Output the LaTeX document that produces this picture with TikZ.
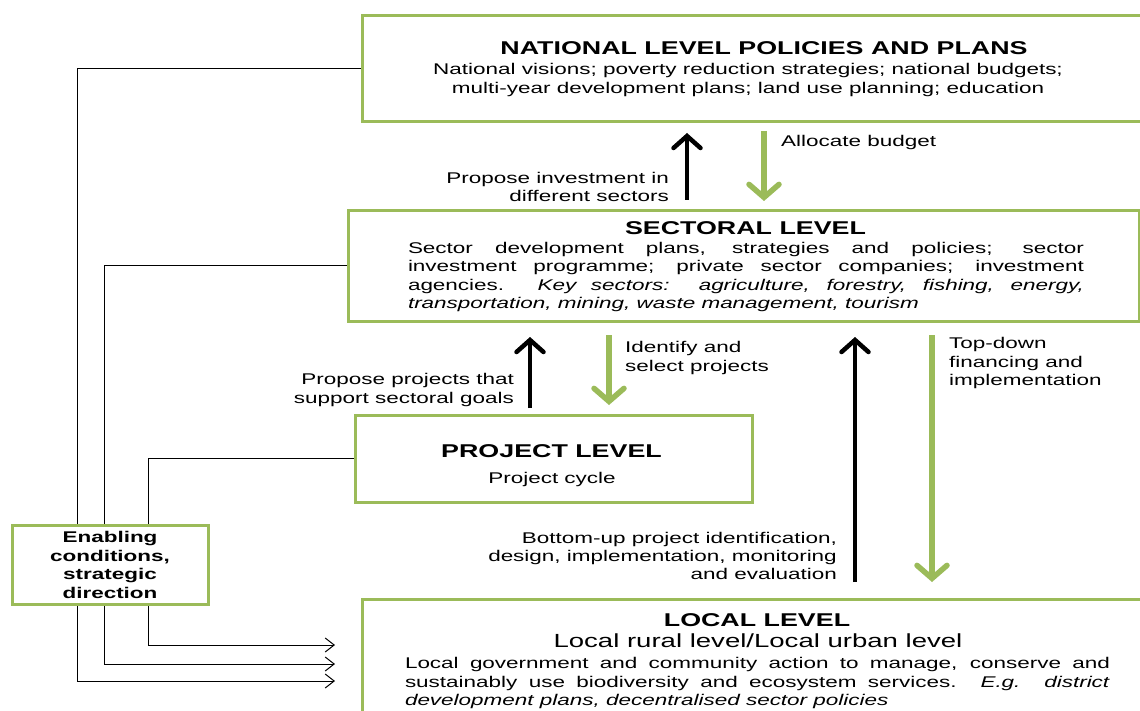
\documentclass[tikz,border=0pt]{standalone}
\usepackage{fontspec}
\setmainfont{Liberation Sans}[FakeStretch=1.45]
\usetikzlibrary{arrows.meta}
\definecolor{boxgreen}{RGB}{155,187,89}
\begin{document}
\begin{tikzpicture}[x=1pt,y=-1pt,
  gbox/.style={draw=boxgreen, line width=3pt, fill=white, inner sep=0pt},
  conn/.style={line width=1pt, black},
  connarr/.style={conn, -{Straight Barb[length=9pt,width=14pt]}},
  txt/.style={inner sep=0pt, font=\fontsize{15.5}{18.3}\selectfont},
  ttl/.style={inner sep=0pt, font=\bfseries\fontsize{18.5}{21}\selectfont},
  sub/.style={inner sep=0pt, font=\fontsize{19}{21}\selectfont},
  etxt/.style={inner sep=0pt, align=center, font=\bfseries\fontsize{15.5}{18.7}\selectfont},
  garrow/.style={line width=5.5pt, draw=boxgreen, -{Straight Barb[length=13pt,width=30pt,line cap=round]}},
  barrow/.style={line width=4.5pt, draw=black, -{Straight Barb[length=12pt,width=27pt,line cap=round]}}
]
\clip (0,0) rectangle (1140,711);
\fill[white] (0,0) rectangle (1140,711);

% boxes
\node[gbox, minimum width=800pt, minimum height=106pt] (nat) at (762,69) {};
\node[gbox, minimum width=791pt, minimum height=110pt] (sec) at (743.5,266) {};
\node[gbox, minimum width=397pt, minimum height=87pt] (proj) at (553.5,458.5) {};
\node[gbox, minimum width=800pt, minimum height=141pt] (loc) at (762,669.5) {};

% connector end points
\coordinate (c1) at (77,681);  \coordinate (t1) at (335,681);
\coordinate (c2) at (104,664); \coordinate (t2) at (335,664);
\coordinate (c3) at (148,645); \coordinate (t3) at (335,645);
\draw[connarr] (nat.west) -| (c1) -- (t1);
\draw[connarr] (sec.west) -| (c2) -- (t2);
\draw[connarr] (proj.west) -| (c3) -- (t3);

% enabling box on top
\node[gbox, minimum width=196pt, minimum height=79pt] (en) at (110,564.5) {};
\node[etxt] (entxt) at (110,565) {Enabling\\conditions,\\strategic\\direction};

% texts
\node[ttl] (natt) at (764,48) {NATIONAL LEVEL POLICIES AND PLANS};
\node[txt, align=center] (natb) at (748,80) {National visions; poverty reduction strategies; national budgets;\\multi-year development plans; land use planning; education};

\node[ttl] (sect) at (745.5,228) {SECTORAL LEVEL};
\node[txt, text width=676pt, align=justify] (secb) at (746,277) {Sector development plans, strategies and policies; sector\linebreak investment programme; private sector companies; investment\linebreak agencies. \textit{Key sectors:\ \ agriculture, forestry, fishing, energy,}\linebreak \textit{transportation, mining, waste management, tourism}};

\node[ttl] (projt) at (551.5,451) {PROJECT LEVEL};
\node[txt] (projb) at (552,479) {Project cycle};

\node[ttl] (loct) at (757,620) {LOCAL LEVEL};
\node[sub] (locs) at (758,641) {Local rural level/Local urban level};
\node[txt, text width=705pt, align=justify] (locb) at (757.5,683) {Local government and community action to manage, conserve and\linebreak sustainably use biodiversity and ecosystem services. \textit{E.g. district}\linebreak \textit{development plans, decentralised sector policies}};

% arrow coordinates
\coordinate (b1s) at (687,200); \coordinate (b1e) at (687,133);
\coordinate (g1s) at (764,131); \coordinate (g1e) at (764,201);
\coordinate (b2s) at (530,408); \coordinate (b2e) at (530,337);
\coordinate (g2s) at (609,335); \coordinate (g2e) at (609,405);
\coordinate (b3s) at (855,582); \coordinate (b3e) at (855,337);
\coordinate (g3s) at (932,335); \coordinate (g3e) at (932,582);
\draw[barrow] (b1s) -- (b1e);
\draw[garrow] (g1s) -- (g1e);
\draw[barrow] (b2s) -- (b2e);
\draw[garrow] (g2s) -- (g2e);
\draw[barrow] (b3s) -- (b3e);
\draw[garrow] (g3s) -- (g3e);

% arrow labels
\node[txt, anchor=west] (lab1) at (781,142) {Allocate budget};
\node[txt, anchor=east, align=right] (lab2) at (669,187) {Propose investment in\\different sectors};
\node[txt, anchor=west, align=left] (lab3) at (625,358) {Identify and\\select projects};
\node[txt, anchor=east, align=right] (lab4) at (514,390) {Propose projects that\\support sectoral goals};
\node[txt, anchor=west, align=left] (lab5) at (949,363) {Top-down\\financing and\\implementation};
\node[txt, anchor=east, align=right] (lab6) at (837,556) {Bottom-up project identification,\\design, implementation, monitoring\\and evaluation};
\end{tikzpicture}
\end{document}
